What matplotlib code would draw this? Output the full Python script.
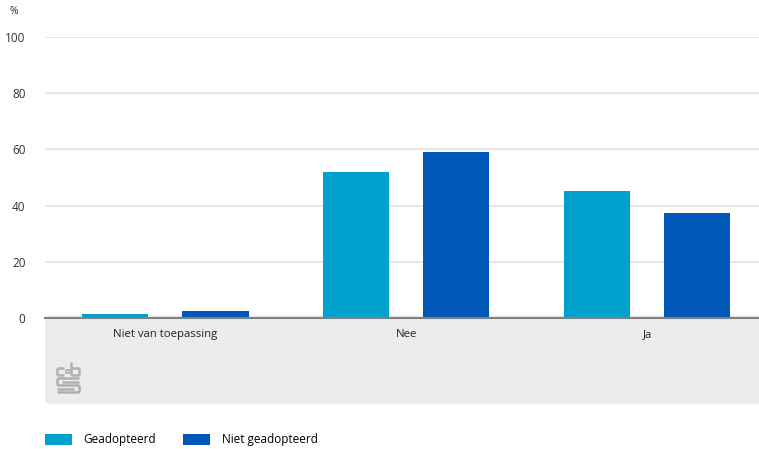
import matplotlib
matplotlib.use("Agg")
import matplotlib.pyplot as plt
from matplotlib.patches import FancyBboxPatch, Rectangle
import numpy as np

categories = ["Niet van toepassing", "Nee", "Ja"]
series_names = ["Geadopteerd", "Niet geadopteerd"]
geadopteerd = [1.5, 52.1, 45.3]
niet_geadopteerd = [2.5, 59.2, 37.5]
yticks = [0, 20, 40, 60, 80, 100]

colors = ["#00a1cd", "#0058b8"]
plt.rcParams['font.family'] = ['Open Sans', 'DejaVu Sans']

W, H = 759, 449
fig = plt.figure(figsize=(W / 100, H / 100), dpi=100)

def fx(px):
    return px / W

def fy(py):
    return 1 - py / H

# grey panel under the axis
panel = FancyBboxPatch((fx(45) + 0.006, fy(406) + 0.01), fx(759) - fx(45) - 0.006 + 0.02, fy(318) - fy(406) - 0.01,
                       boxstyle="round,pad=0.006,rounding_size=0.01", transform=fig.transFigure,
                       facecolor="#ececec", edgecolor="none", zorder=-5)
fig.patches.append(panel)

ax = fig.add_axes([fx(45), fy(318), fx(759) - fx(45), fy(37) - fy(318)])
ax.set_zorder(2)
ax.set_facecolor("none")
x = np.arange(len(categories))
w = 0.274
off = 0.2075
ax.bar(x - off, geadopteerd, w, color=colors[0], label=series_names[0], zorder=3)
ax.bar(x + off, niet_geadopteerd, w, color=colors[1], label=series_names[1], zorder=3)

ax.set_xlim(-0.5, 2.463)
ax.set_ylim(0, 100)
ax.set_yticks(yticks)
ax.set_yticklabels([str(v) for v in yticks], fontsize=8.5, color="#333333")
ax.set_xticks(x)
ax.set_xticklabels(categories, fontsize=8.2, color="#222222")
ax.tick_params(axis='y', length=0, pad=14)
ax.tick_params(axis='x', length=0, pad=8)
ax.grid(axis='y', color="#e3e3e3", linewidth=1.2, zorder=0)
for s in ["top", "right", "left"]:
    ax.spines[s].set_visible(False)
ax.spines["bottom"].set_color("#808080")
ax.spines["bottom"].set_linewidth(1.5)
ax.spines["bottom"].set_zorder(4)

fig.text(fx(9), fy(12), "%", fontsize=7.5, color="#333333", ha="left", va="center")

# simple CBS-like logo glyph
lc = "#b0b0b0"
lx, ly = 57, 366
def seg(x0, y0, x1, y1):
    fig.add_artist(plt.Line2D([fx(x0), fx(x1)], [fy(y0), fy(y1)], color=lc, linewidth=1.8,
                              transform=fig.transFigure, solid_capstyle="butt"))
# 'c' top-left
seg(lx, ly + 2, lx + 7, ly + 2); seg(lx, ly + 2, lx, ly + 9); seg(lx, ly + 9, lx + 7, ly + 9)
# 'b' top-right
seg(lx + 14, ly - 4, lx + 14, ly + 9); seg(lx + 14, ly + 9, lx + 22, ly + 9)
seg(lx + 22, ly + 9, lx + 22, ly + 2); seg(lx + 14, ly + 2, lx + 22, ly + 2)
fig.add_artist(Rectangle((fx(lx + 9), fy(ly + 7)), fx(3), fy(0) - fy(3), transform=fig.transFigure,
                         facecolor="none", edgecolor=lc, linewidth=1.2))
# 's' bottom
seg(lx, ly + 12, lx + 22, ly + 12); seg(lx, ly + 12, lx, ly + 19); seg(lx, ly + 19, lx + 22, ly + 19)
seg(lx + 22, ly + 19, lx + 22, ly + 26); seg(lx, ly + 26, lx + 22, ly + 26)
seg(lx + 5, ly + 15.5, lx + 22, ly + 15.5); seg(lx, ly + 22.5, lx + 17, ly + 22.5)

# legend
handles, labels = ax.get_legend_handles_labels()
leg = fig.legend(handles, labels, loc="center left", bbox_to_anchor=(fx(45), fy(440)),
                 ncol=2, frameon=False, fontsize=8.5, handlelength=2.3, handleheight=1.0,
                 handletextpad=0.95, columnspacing=2.3, borderaxespad=0, borderpad=0)

fig.savefig("out.png", dpi=100)
